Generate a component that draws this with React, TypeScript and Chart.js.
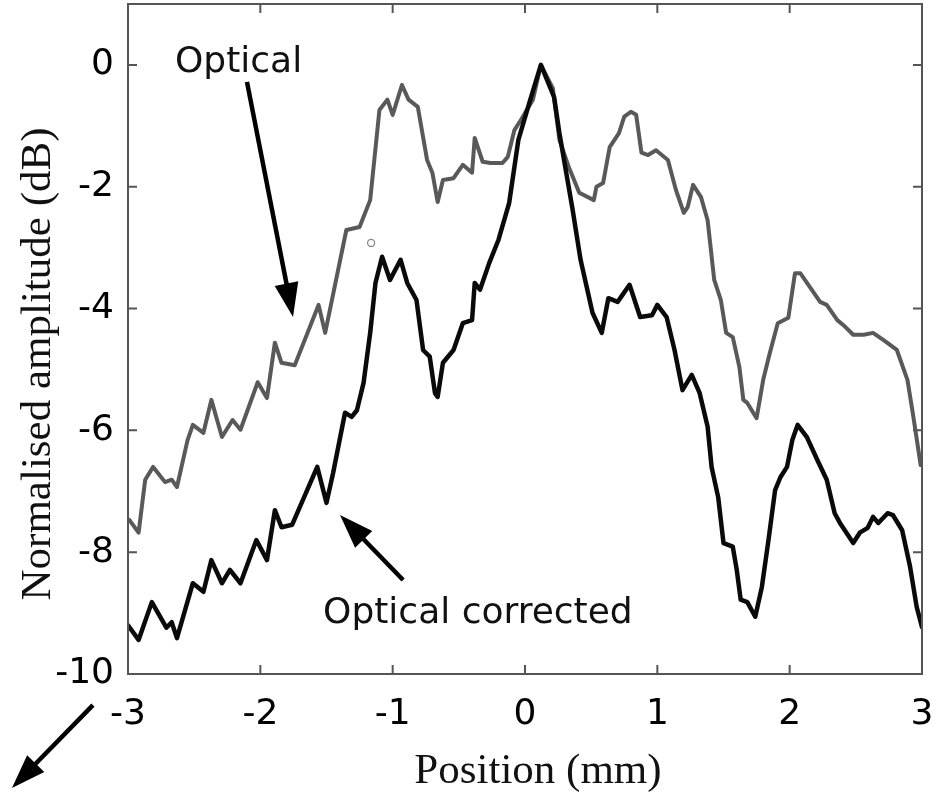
import React, { useEffect, useRef } from 'react';
import { Chart, registerables } from 'chart.js';

Chart.register(...registerables);

// ---- Data ----
const opticalX = [-2.99, -2.92, -2.87, -2.81, -2.72, -2.67, -2.63, -2.55, -2.51, -2.43, -2.37, -2.29, -2.21, -2.15, -2.02, -1.95, -1.89, -1.84, -1.74, -1.56, -1.51, -1.35, -1.25, -1.17, -1.10, -1.04, -1.00, -0.93, -0.88, -0.81, -0.74, -0.70, -0.66, -0.62, -0.54, -0.47, -0.40, -0.38, -0.32, -0.26, -0.17, -0.13, -0.08, -0.03, 0.06, 0.12, 0.21, 0.26, 0.33, 0.41, 0.52, 0.54, 0.59, 0.64, 0.71, 0.75, 0.80, 0.84, 0.88, 0.93, 0.99, 1.08, 1.14, 1.20, 1.23, 1.27, 1.33, 1.38, 1.43, 1.48, 1.52, 1.57, 1.62, 1.65, 1.68, 1.75, 1.80, 1.85, 1.91, 1.99, 2.04, 2.08, 2.23, 2.28, 2.36, 2.42, 2.48, 2.56, 2.63, 2.71, 2.81, 2.89, 2.93, 2.99];
const opticalY = [-7.47, -7.68, -6.81, -6.60, -6.85, -6.81, -6.93, -6.16, -5.91, -6.04, -5.50, -6.11, -5.83, -5.99, -5.21, -5.47, -4.56, -4.89, -4.93, -3.94, -4.40, -2.71, -2.66, -2.22, -0.74, -0.57, -0.82, -0.33, -0.57, -0.69, -1.56, -1.77, -2.25, -1.89, -1.86, -1.64, -1.77, -1.20, -1.59, -1.61, -1.61, -1.51, -1.07, -0.90, -0.57, 0, -0.38, -1.23, -1.67, -2.10, -2.22, -2.00, -1.94, -1.35, -1.12, -0.85, -0.77, -0.82, -1.44, -1.48, -1.40, -1.56, -2.05, -2.43, -2.33, -1.97, -2.17, -2.55, -3.53, -3.86, -4.40, -4.47, -4.96, -5.50, -5.55, -5.80, -5.17, -4.73, -4.24, -4.15, -3.42, -3.42, -3.89, -3.94, -4.19, -4.30, -4.43, -4.43, -4.40, -4.52, -4.68, -5.17, -5.71, -6.57];

const correctedX = [-3.00, -2.92, -2.82, -2.71, -2.67, -2.63, -2.51, -2.43, -2.37, -2.29, -2.23, -2.15, -2.03, -1.95, -1.89, -1.84, -1.76, -1.57, -1.50, -1.45, -1.36, -1.31, -1.27, -1.22, -1.17, -1.13, -1.08, -1.02, -0.94, -0.89, -0.82, -0.77, -0.72, -0.68, -0.66, -0.62, -0.54, -0.47, -0.40, -0.38, -0.34, -0.27, -0.20, -0.12, -0.05, 0.04, 0.12, 0.22, 0.26, 0.36, 0.42, 0.51, 0.58, 0.63, 0.70, 0.79, 0.87, 0.96, 1.00, 1.07, 1.13, 1.19, 1.26, 1.32, 1.38, 1.41, 1.46, 1.50, 1.57, 1.60, 1.63, 1.68, 1.74, 1.79, 1.84, 1.89, 1.93, 1.98, 2.02, 2.06, 2.13, 2.21, 2.28, 2.34, 2.38, 2.48, 2.53, 2.59, 2.63, 2.67, 2.74, 2.78, 2.85, 2.91, 2.96, 3.00];
const correctedY = [-9.20, -9.44, -8.82, -9.24, -9.15, -9.41, -8.51, -8.65, -8.13, -8.51, -8.29, -8.51, -7.80, -8.13, -7.31, -7.59, -7.55, -6.60, -7.19, -6.70, -5.71, -5.78, -5.67, -5.22, -4.40, -3.58, -3.15, -3.53, -3.20, -3.58, -3.86, -4.68, -4.79, -5.39, -5.45, -4.89, -4.68, -4.24, -4.19, -3.58, -3.69, -3.25, -2.87, -2.27, -1.23, -0.57, 0, -0.53, -1.12, -2.38, -3.20, -4.07, -4.40, -3.83, -3.89, -3.61, -4.14, -4.11, -3.94, -4.14, -4.68, -5.34, -5.09, -5.39, -5.94, -6.60, -7.10, -7.85, -7.91, -8.29, -8.78, -8.82, -9.06, -8.57, -7.80, -6.98, -6.77, -6.60, -6.16, -5.91, -6.11, -6.49, -6.81, -7.36, -7.52, -7.85, -7.68, -7.60, -7.42, -7.52, -7.36, -7.39, -7.64, -8.24, -8.90, -9.23];

const xTickValues = [-3, -2, -1, 0, 1, 2, 3];
const yTickValues = [-10, -8, -6, -4, -2, 0];

const xTitle = 'Position (mm)';
const yTitle = 'Normalised amplitude (dB)';

// Annotations (in data units)
const labelOptical = { text: 'Optical', x: -2.645, y: -0.115 };
const labelCorrected = { text: 'Optical corrected', x: -1.526, y: -9.163 };
const arrowOptical = { from: [-2.101, -0.279], to: [-1.753, -4.138] };
const arrowCorrected = { from: [-0.921, -8.456], to: [-1.398, -7.389] };
const arrowCorner = { from: [-3.265, -10.51], to: [-3.877, -11.87] };
const smallCircle = { x: -1.163, y: -2.923 };

const toPoints = (xs: number[], ys: number[]) =>
  xs.slice(0, Math.min(xs.length, ys.length)).map((x, i) => ({ x, y: ys[i] }));

const overlayPlugin = {
  id: 'overlay',
  afterDraw(chart: any) {
    const { ctx, chartArea: a, scales } = chart;
    const xs = scales.x;
    const ys = scales.y;
    ctx.save();

    // frame
    ctx.strokeStyle = '#555';
    ctx.lineWidth = 2;
    ctx.strokeRect(a.left, a.top, a.right - a.left, a.bottom - a.top);

    // inward ticks on all four sides
    const tl = 9;
    ctx.beginPath();
    xTickValues.forEach((v) => {
      const px = xs.getPixelForValue(v);
      ctx.moveTo(px, a.bottom);
      ctx.lineTo(px, a.bottom - tl);
      ctx.moveTo(px, a.top);
      ctx.lineTo(px, a.top + tl);
    });
    yTickValues.forEach((v) => {
      const py = ys.getPixelForValue(v);
      ctx.moveTo(a.left, py);
      ctx.lineTo(a.left + tl, py);
      ctx.moveTo(a.right, py);
      ctx.lineTo(a.right - tl, py);
    });
    ctx.stroke();

    // axis titles
    ctx.fillStyle = '#111';
    ctx.font = '43px "Liberation Serif"';
    ctx.textAlign = 'center';
    ctx.textBaseline = 'alphabetic';
    ctx.fillText(xTitle, (a.left + a.right) / 2 + 13, a.bottom + 109);
    ctx.save();
    ctx.translate(a.left - 78, (a.top + a.bottom) / 2 + 25);
    ctx.rotate(-Math.PI / 2);
    ctx.fillText(yTitle, 0, 0);
    ctx.restore();

    // annotation texts
    ctx.font = '36px "DejaVu Sans"';
    ctx.textAlign = 'left';
    [labelOptical, labelCorrected].forEach((l) => {
      ctx.fillText(l.text, xs.getPixelForValue(l.x), ys.getPixelForValue(l.y));
    });

    // arrows
    const drawArrow = (arr: { from: number[]; to: number[] }) => {
      const x1 = xs.getPixelForValue(arr.from[0]);
      const y1 = ys.getPixelForValue(arr.from[1]);
      const x2 = xs.getPixelForValue(arr.to[0]);
      const y2 = ys.getPixelForValue(arr.to[1]);
      const ang = Math.atan2(y2 - y1, x2 - x1);
      const hl = 34;
      const hw = 12;
      const bx = x2 - hl * Math.cos(ang);
      const by = y2 - hl * Math.sin(ang);
      ctx.strokeStyle = '#000';
      ctx.fillStyle = '#000';
      ctx.lineWidth = 4.5;
      ctx.beginPath();
      ctx.moveTo(x1, y1);
      ctx.lineTo(bx + 4 * Math.cos(ang), by + 4 * Math.sin(ang));
      ctx.stroke();
      ctx.beginPath();
      ctx.moveTo(x2, y2);
      ctx.lineTo(bx + hw * Math.sin(ang), by - hw * Math.cos(ang));
      ctx.lineTo(bx - hw * Math.sin(ang), by + hw * Math.cos(ang));
      ctx.closePath();
      ctx.fill();
    };
    drawArrow(arrowOptical);
    drawArrow(arrowCorrected);
    drawArrow(arrowCorner);

    // small circle mark
    ctx.strokeStyle = '#888';
    ctx.lineWidth = 1.3;
    ctx.beginPath();
    ctx.arc(xs.getPixelForValue(smallCircle.x), ys.getPixelForValue(smallCircle.y), 3.5, 0, Math.PI * 2);
    ctx.stroke();

    ctx.restore();
  },
};

export default function App() {
  const ref = useRef<HTMLCanvasElement>(null);

  useEffect(() => {
    const canvas = ref.current;
    if (!canvas) return;
    const tickFont = { family: '"DejaVu Sans"', size: 36 };
    const chart = new Chart(canvas, {
      type: 'line',
      data: {
        datasets: [
          {
            label: 'Optical corrected',
            data: toPoints(correctedX, correctedY),
            borderColor: '#0a0a0a',
            borderWidth: 4.5,
            pointRadius: 0,
            tension: 0,
            fill: false,
            borderJoinStyle: 'round',
            borderCapStyle: 'round',
          },
          {
            label: 'Optical',
            data: toPoints(opticalX, opticalY),
            borderColor: '#595959',
            borderWidth: 4,
            pointRadius: 0,
            tension: 0,
            fill: false,
            borderJoinStyle: 'round',
            borderCapStyle: 'round',
          },
        ],
      },
      options: {
        responsive: false,
        animation: false,
        layout: { padding: { top: 4, right: 14, bottom: 0, left: 0 } },
        plugins: { legend: { display: false }, tooltip: { enabled: false } },
        scales: {
          x: {
            type: 'linear',
            min: -3,
            max: 3,
            grid: { display: false },
            border: { display: false },
            ticks: { padding: 11, font: tickFont, color: '#000', maxRotation: 0, autoSkip: false },
            afterBuildTicks: (s: any) => {
              s.ticks = xTickValues.map((v) => ({ value: v }));
            },
            afterFit: (s: any) => {
              s.height = 118;
              s.paddingLeft = 0;
              s.paddingRight = 0;
            },
          },
          y: {
            type: 'linear',
            min: -10,
            max: 1,
            grid: { display: false },
            border: { display: false },
            ticks: { padding: 6, font: tickFont, color: '#000', autoSkip: false },
            afterBuildTicks: (s: any) => {
              s.ticks = yTickValues.map((v) => ({ value: v }));
            },
            afterFit: (s: any) => {
              s.width = 128;
              s.paddingTop = 0;
              s.paddingBottom = 0;
            },
          },
        },
      } as any,
      plugins: [overlayPlugin],
    } as any);
    return () => chart.destroy();
  }, []);

  return (
    <div style={{ position: 'absolute', left: 0, top: 0, width: 936, height: 792, background: '#fff' }}>
      <canvas ref={ref} width={936} height={792} style={{ display: 'block' }} />
    </div>
  );
}
